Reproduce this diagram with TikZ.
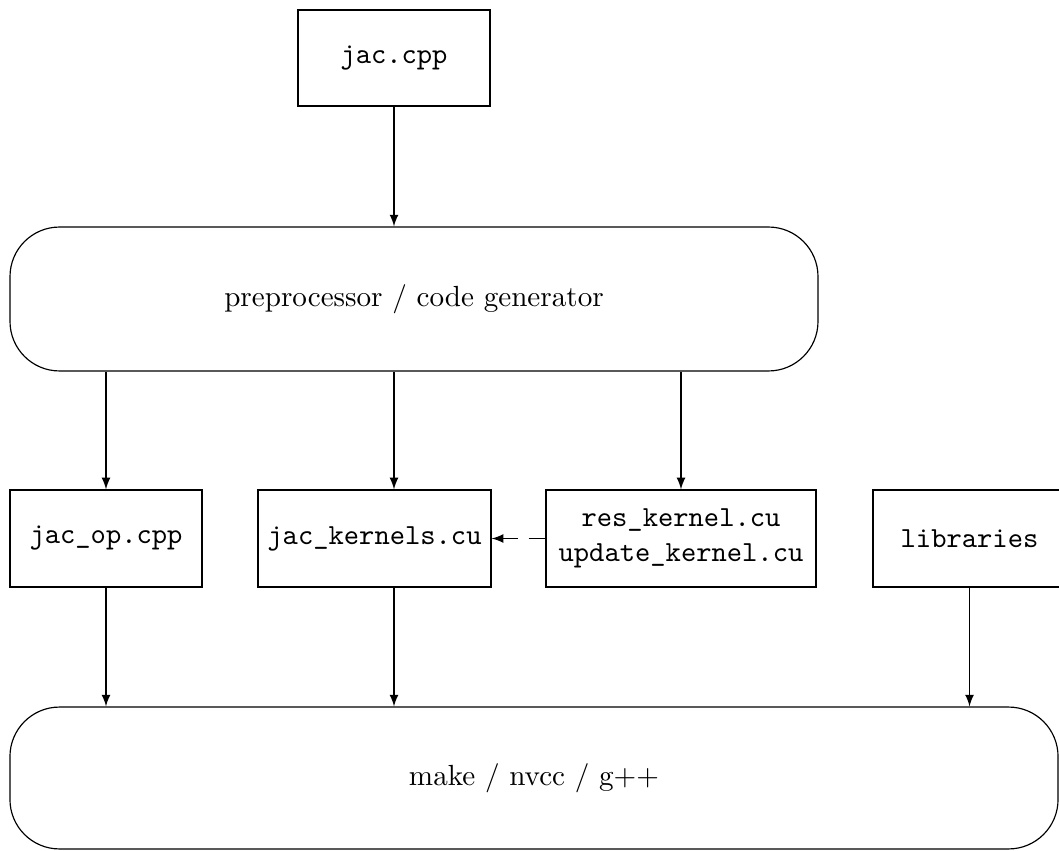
\documentclass[tikz,border=0pt]{standalone}
\usetikzlibrary{arrows}
\begin{document}
\begin{tikzpicture}[x=0.3432pt,y=-0.3432pt,
  box/.style={draw,rectangle,inner sep=0pt,align=center,font=\ttfamily},
  rbox/.style={draw,rectangle,rounded corners=17pt,inner sep=0pt},
  arr/.style={->,>=latex}]
\useasboundingbox (0,0) rectangle (1059,851);
\clip (0,0) rectangle (1059,851);
\node[box,minimum width=65.9pt,minimum height=32.9pt] (jac) at (394,58) {jac.cpp};
\node[rbox,minimum width=277.3pt,minimum height=49.4pt] (pre) at (414,299) {preprocessor / code generator};
\node[box,minimum width=65.9pt,minimum height=33.3pt] (op) at (106,538.5) {jac\_op.cpp};
\node[box,minimum width=80pt,minimum height=33.3pt] (kern) at (374.5,538.5) {jac\_kernels.cu};
\node[box,minimum width=92.7pt,minimum height=33.3pt] (res) at (681,538.5) {res\_kernel.cu\\update\_kernel.cu};
\node[box,minimum width=66.2pt,minimum height=33.3pt] (lib) at (969.5,538.5) {libraries};
\node[rbox,minimum width=359.7pt,minimum height=48.7pt] (make) at (534,778) {make / nvcc / g++};
\draw[arr] (jac) -- (pre.north -| jac);
\draw[arr] (pre.south -| op) -- (op);
\draw[arr] (pre.south -| jac) -- (kern.north -| jac);
\draw[arr] (pre.south -| res) -- (res);
\draw[arr,<-,dash pattern=on 5.5pt off 3.6pt] (kern) -- (res);
\draw[arr] (op) -- (make.north -| op);
\draw[arr] (kern.south -| jac) -- (make.north -| jac);
\draw[arr] (lib) -- (make.north -| lib);
\end{tikzpicture}
\end{document}
